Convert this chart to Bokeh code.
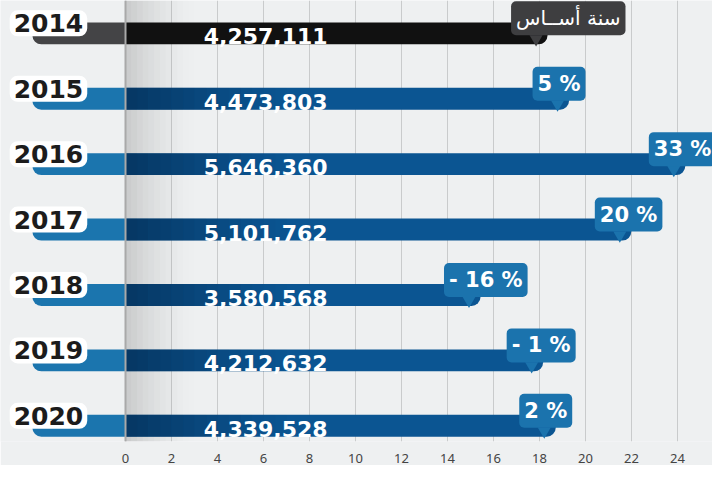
from bokeh.plotting import figure
from bokeh.models import Range1d, FixedTicker, Span
from bokeh.core.properties import value
from bokeh.embed import file_html
from bokeh.resources import INLINE

# ---------------- data ----------------
years = ["2014", "2015", "2016", "2017", "2018", "2019", "2020"]
visitors = [4257111, 4473803, 5646360, 5101762, 3580568, 4212632, 4339528]
change_labels = ["سنة أســاس", "5 %", "33 %", "20 %", "- 16 %", "- 1 %", "2 %"]
axis_ticks = list(range(0, 27, 2))

UNIT = 232000  # visitors per axis unit (bar length scale)

# ---------------- derived ----------------
rows = list(range(len(years)))
ends = [v / UNIT for v in visitors]
value_text = [f"{v:,}" for v in visitors]

main_colors = ["#111111"] + ["#0b5592"] * (len(years) - 1)
tab_colors = ["#444446"] + ["#1b75ae"] * (len(years) - 1)
call_colors = ["#3e3e40"] + ["#1b73ad"] * (len(years) - 1)

BAR_H = 0.335
BG = "#eef0f1"
Y_TOP, Y_BOT = -0.502, 6.24

p = figure(width=712, height=465,
           x_range=Range1d(-5.435, 25.52), y_range=Range1d(Y_BOT, Y_TOP),
           output_backend="svg", toolbar_location=None, y_axis_location=None,
           min_border_left=0, min_border_right=0, min_border_top=0,
           min_border_bottom=22)
p.background_fill_color = BG
p.border_fill_color = BG
p.outline_line_color = None

# grid
p.xgrid.ticker = FixedTicker(ticks=axis_ticks)
p.xgrid.grid_line_color = "#c9cbcc"
p.ygrid.visible = False

# axis
p.xaxis.ticker = FixedTicker(ticks=axis_ticks)
p.xaxis.axis_line_color = None
p.xaxis.major_tick_line_color = None
p.xaxis.minor_tick_line_color = None
p.xaxis.major_label_text_font = "Noto Sans"
p.xaxis.major_label_text_font_size = "13px"
p.xaxis.major_label_text_color = "#444444"
p.xaxis.major_label_standoff = 6

# soft shadow right of the zero line
n_sh = 12
for k in range(n_sh):
    p.quad(left=k * 0.25, right=(k + 1) * 0.25, bottom=Y_BOT, top=Y_TOP,
           fill_color="#7a7a7a", fill_alpha=0.30 * (1 - k / n_sh) ** 1.6,
           line_color=None)

p.add_layout(Span(location=0, dimension="height", line_color="#a9a9a9", line_width=2))

# left tabs (behind year labels)
p.hbar(y=rows, left=-4.05, right=0, height=BAR_H, fill_color=tab_colors,
       line_color=None, border_radius=(0, 0, 0, 9))

# main bars
p.hbar(y=rows, left=0, right=ends, height=BAR_H, fill_color=main_colors,
       line_color=None, border_radius=(0, 0, 9, 0))

# darker gradient at the start of the blue bars
n_gr = 14
for k in range(n_gr):
    p.hbar(y=rows[1:], left=k * 0.5, right=(k + 1) * 0.5, height=BAR_H,
           fill_color="#03213f", fill_alpha=0.55 * (1 - k / n_gr) ** 1.3,
           line_color=None)

# value labels
p.text(x=3.4, y=rows, text=value_text, y_offset=3,
       text_font=value("DejaVu Sans"), text_font_style="bold",
       text_font_size="22px", text_color="white",
       text_align="left", text_baseline="middle")

# year labels with white sticker
p.text(x=-3.35, y=rows, text=years, y_offset=-10,
       text_font=value("DejaVu Sans"), text_font_style="bold",
       text_font_size="25px", text_color="#1c1c1c",
       text_align="center", text_baseline="middle",
       background_fill_color="white", padding=4, border_radius=8)

# pointers of the call-outs
ptr_x = [e - 0.5 for e in ends]
p.scatter(x=ptr_x, y=[r + 0.085 for r in rows], marker="inverted_triangle",
          size=13, fill_color=call_colors, line_color=None)

# call-out boxes
p.text(x=ptr_x[:1], y=rows[:1], text=change_labels[:1], x_offset=-25, y_offset=-15,
       text_font=value("DejaVu Sans"), text_font_size="20px", text_color="white",
       text_align="left", text_baseline="middle",
       background_fill_color=call_colors[0], padding=5, border_radius=5)
p.text(x=ptr_x[1:], y=rows[1:], text=change_labels[1:], x_offset=-25, y_offset=-15,
       text_font=value("DejaVu Sans"), text_font_style="bold",
       text_font_size="21px", text_color="white",
       text_align="left", text_baseline="middle",
       background_fill_color=call_colors[1], padding=5, border_radius=5)

open("out.html", "w").write(file_html(p, INLINE))
